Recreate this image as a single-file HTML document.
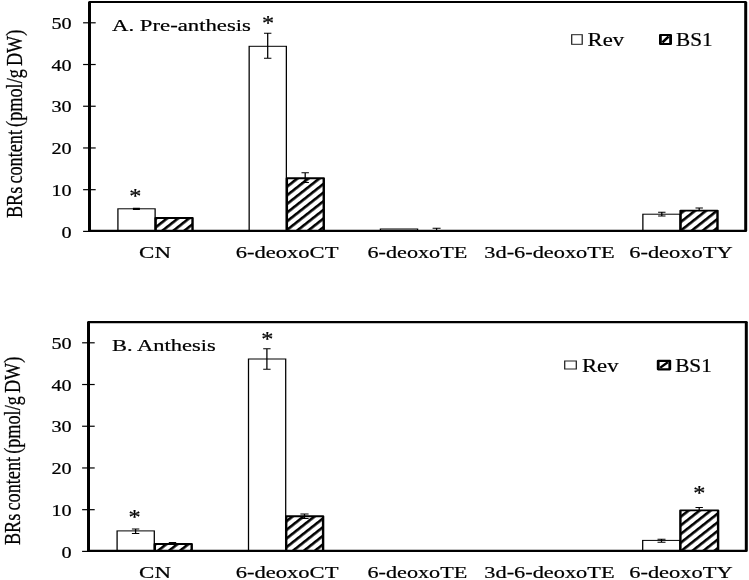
<!DOCTYPE html>
<html><head><meta charset="utf-8"><title>BRs content</title>
<style>html,body{margin:0;padding:0;background:#fff}svg{display:block;filter:blur(0.4px)}text{font-family:"Liberation Serif","Times New Roman",serif;fill:#000;stroke:#000;stroke-width:0.22px}</style>
</head><body>
<svg width="749" height="580" viewBox="0 0 749 580">
<defs>
<pattern id="h0" patternUnits="userSpaceOnUse" width="6.12" height="6.12" patternTransform="translate(123.578,224.669) rotate(-45)"><rect width="6.12" height="6.12" fill="#fff"/><rect width="6.12" height="2.35" fill="#000"/></pattern>
<pattern id="h1" patternUnits="userSpaceOnUse" width="6.12" height="6.12" patternTransform="translate(227.122,201.169) rotate(-45)"><rect width="6.12" height="6.12" fill="#fff"/><rect width="6.12" height="2.35" fill="#000"/></pattern>
<pattern id="h2" patternUnits="userSpaceOnUse" width="6.12" height="6.12" patternTransform="translate(536.964,219.369) rotate(-45)"><rect width="6.12" height="6.12" fill="#fff"/><rect width="6.12" height="2.35" fill="#000"/></pattern>
<pattern id="h3" patternUnits="userSpaceOnUse" width="6.12" height="6.12" patternTransform="translate(123.578,541.269) rotate(-45)"><rect width="6.12" height="6.12" fill="#fff"/><rect width="6.12" height="2.35" fill="#000"/></pattern>
<pattern id="h4" patternUnits="userSpaceOnUse" width="6.12" height="6.12" patternTransform="translate(226.728,527.069) rotate(-45)"><rect width="6.12" height="6.12" fill="#fff"/><rect width="6.12" height="2.35" fill="#000"/></pattern>
<pattern id="h5" patternUnits="userSpaceOnUse" width="6.12" height="6.12" patternTransform="translate(536.964,522.769) rotate(-45)"><rect width="6.12" height="6.12" fill="#fff"/><rect width="6.12" height="2.35" fill="#000"/></pattern>
</defs>
<rect width="749" height="580" fill="#fff"/>
<g transform="scale(1.27,1)">
<rect x="92.85" y="208.80" width="29.29" height="22.05" fill="#fff" stroke="#000" stroke-width="1"/>
<rect x="122.54" y="218.00" width="29.06" height="12.85" fill="url(#h0)" stroke="#000" stroke-width="1.9" stroke-linejoin="round"/>
<rect x="196.19" y="46.30" width="29.29" height="184.55" fill="#fff" stroke="#000" stroke-width="1"/>
<rect x="225.87" y="178.20" width="29.06" height="52.65" fill="url(#h1)" stroke="#000" stroke-width="1.9" stroke-linejoin="round"/>
<rect x="299.53" y="229.00" width="29.29" height="1.85" fill="#fff" stroke="#000" stroke-width="1"/>
<rect x="506.20" y="214.20" width="29.29" height="16.65" fill="#fff" stroke="#000" stroke-width="1"/>
<rect x="535.89" y="210.60" width="29.06" height="20.25" fill="url(#h2)" stroke="#000" stroke-width="1.9" stroke-linejoin="round"/>
<path d="M107.40 208.30V209.30M104.65 208.30H110.16M104.65 209.30H110.16" stroke="#000" stroke-width="1.2" fill="none"/>
<path d="M210.79 33.20V58.20M207.87 33.20H213.70M207.87 58.20H213.70" stroke="#000" stroke-width="1.0" fill="none"/>
<path d="M240.31 172.70V182.50M237.40 172.70H243.23M237.40 182.50H243.23" stroke="#000" stroke-width="1.0" fill="none"/>
<path d="M343.78 228.20V230.50M340.63 228.20H346.93M340.63 230.50H346.93" stroke="#000" stroke-width="1.0" fill="none"/>
<path d="M521.10 212.20V215.90M518.19 212.20H524.02M518.19 215.90H524.02" stroke="#000" stroke-width="1.0" fill="none"/>
<path d="M550.55 208.00V210.60M547.64 208.00H553.46M547.64 210.60H553.46" stroke="#000" stroke-width="1.0" fill="none"/>
<path d="M70.47 2.05V230.85H587.17V2.05" fill="none" stroke="#000" stroke-width="2.35" stroke-linejoin="round"/>
<path d="M70.47 2.05H587.17" fill="none" stroke="#000" stroke-width="1.9" stroke-linecap="round"/>
<path d="M65.43 231.40H75.35" stroke="#000" stroke-width="1.2"/>
<text transform="translate(56.38,237.50) scale(0.905,1)" font-size="17.6" text-anchor="end" >0</text>
<path d="M65.43 189.68H75.35" stroke="#000" stroke-width="1.2"/>
<text transform="translate(56.38,195.78) scale(0.905,1)" font-size="17.6" text-anchor="end" >10</text>
<path d="M65.43 147.96H75.35" stroke="#000" stroke-width="1.2"/>
<text transform="translate(56.38,154.06) scale(0.905,1)" font-size="17.6" text-anchor="end" >20</text>
<path d="M65.43 106.24H75.35" stroke="#000" stroke-width="1.2"/>
<text transform="translate(56.38,112.34) scale(0.905,1)" font-size="17.6" text-anchor="end" >30</text>
<path d="M65.43 64.52H75.35" stroke="#000" stroke-width="1.2"/>
<text transform="translate(56.38,70.62) scale(0.905,1)" font-size="17.6" text-anchor="end" >40</text>
<path d="M65.43 22.80H75.35" stroke="#000" stroke-width="1.2"/>
<text transform="translate(56.38,28.90) scale(0.905,1)" font-size="17.6" text-anchor="end" >50</text>
<text transform="translate(122.06,257.95) scale(1.04,1)" font-size="17.35" text-anchor="middle" >CN</text>
<text transform="translate(226.03,257.95) scale(1.024,1)" font-size="17.35" text-anchor="middle" >6-deoxoCT</text>
<text transform="translate(328.66,257.95) scale(1.007,1)" font-size="17.35" text-anchor="middle" >6-deoxoTE</text>
<text transform="translate(432.63,257.95) scale(1.014,1)" font-size="17.35" text-anchor="middle" >3d-6-deoxoTE</text>
<text transform="translate(536.13,257.95) scale(1.018,1)" font-size="17.35" text-anchor="middle" >6-deoxoTY</text>
<text transform="translate(88.27,30.60) scale(1.034,1)" font-size="17.3" text-anchor="start" >A. Pre-anthesis</text>
<text transform="translate(17.32,123.90) rotate(-90)" word-spacing="-1.5" font-size="18.6" text-anchor="middle" textLength="188.4" lengthAdjust="spacingAndGlyphs">BRs content (pmol/g DW)</text>
<text transform="translate(106.54,203.00) scale(0.93,1)" font-size="20.5" text-anchor="middle" >*</text>
<text transform="translate(211.02,30.10) scale(0.93,1)" font-size="20.5" text-anchor="middle" >*</text>
<rect x="450.16" y="34.70" width="8.27" height="9.60" fill="#fff" stroke="#222" stroke-width="1"/>
<text transform="translate(462.68,45.80) scale(0.96,1)" font-size="18.6" text-anchor="start" >Rev</text>
<rect x="520.00" y="35.00" width="8.03" height="9.00" fill="#fff" stroke="#000" stroke-width="2.2" stroke-linejoin="round"/>
<path d="M521.57 42.50L526.46 36.50" stroke="#000" stroke-width="2.2"/>
<text transform="translate(532.28,45.90) scale(0.9,1)" font-size="18.6" text-anchor="start" >BS1</text>
<rect x="92.20" y="530.90" width="29.29" height="19.95" fill="#fff" stroke="#000" stroke-width="1"/>
<rect x="121.89" y="544.00" width="29.06" height="6.85" fill="url(#h3)" stroke="#000" stroke-width="1.9" stroke-linejoin="round"/>
<rect x="195.67" y="359.00" width="29.29" height="191.85" fill="#fff" stroke="#000" stroke-width="1"/>
<rect x="225.35" y="516.20" width="29.06" height="34.65" fill="url(#h4)" stroke="#000" stroke-width="1.9" stroke-linejoin="round"/>
<rect x="506.06" y="540.40" width="29.29" height="10.45" fill="#fff" stroke="#000" stroke-width="1"/>
<rect x="535.75" y="510.40" width="29.69" height="40.45" fill="url(#h5)" stroke="#000" stroke-width="1.9" stroke-linejoin="round"/>
<path d="M106.77 529.00V533.40M103.86 529.00H109.69M103.86 533.40H109.69" stroke="#000" stroke-width="1.0" fill="none"/>
<path d="M135.83 542.40V544.50M132.91 542.40H138.74M132.91 544.50H138.74" stroke="#000" stroke-width="1.0" fill="none"/>
<path d="M210.16 348.80V369.20M207.24 348.80H213.07M207.24 369.20H213.07" stroke="#000" stroke-width="1.0" fill="none"/>
<path d="M239.76 514.10V518.50M236.54 514.10H242.99M236.54 518.50H242.99" stroke="#000" stroke-width="1.0" fill="none"/>
<path d="M520.87 539.20V542.20M517.72 539.20H524.02M517.72 542.20H524.02" stroke="#000" stroke-width="1.0" fill="none"/>
<path d="M550.55 507.60V510.40M547.64 507.60H553.46M547.64 510.40H553.46" stroke="#000" stroke-width="1.0" fill="none"/>
<path d="M69.69 322.05V550.85H587.64V322.05" fill="none" stroke="#000" stroke-width="2.35" stroke-linejoin="round"/>
<path d="M69.69 322.05H587.64" fill="none" stroke="#000" stroke-width="2.2" stroke-linecap="round"/>
<path d="M64.65 551.40H74.57" stroke="#000" stroke-width="1.2"/>
<text transform="translate(56.38,557.50) scale(0.905,1)" font-size="17.6" text-anchor="end" >0</text>
<path d="M64.65 509.68H74.57" stroke="#000" stroke-width="1.2"/>
<text transform="translate(56.38,515.78) scale(0.905,1)" font-size="17.6" text-anchor="end" >10</text>
<path d="M64.65 467.96H74.57" stroke="#000" stroke-width="1.2"/>
<text transform="translate(56.38,474.06) scale(0.905,1)" font-size="17.6" text-anchor="end" >20</text>
<path d="M64.65 426.24H74.57" stroke="#000" stroke-width="1.2"/>
<text transform="translate(56.38,432.34) scale(0.905,1)" font-size="17.6" text-anchor="end" >30</text>
<path d="M64.65 384.52H74.57" stroke="#000" stroke-width="1.2"/>
<text transform="translate(56.38,390.62) scale(0.905,1)" font-size="17.6" text-anchor="end" >40</text>
<path d="M64.65 342.80H74.57" stroke="#000" stroke-width="1.2"/>
<text transform="translate(56.38,348.90) scale(0.905,1)" font-size="17.6" text-anchor="end" >50</text>
<text transform="translate(122.06,577.65) scale(1.04,1)" font-size="17.35" text-anchor="middle" >CN</text>
<text transform="translate(226.03,577.65) scale(1.024,1)" font-size="17.35" text-anchor="middle" >6-deoxoCT</text>
<text transform="translate(328.66,577.65) scale(1.007,1)" font-size="17.35" text-anchor="middle" >6-deoxoTE</text>
<text transform="translate(432.63,577.65) scale(1.014,1)" font-size="17.35" text-anchor="middle" >3d-6-deoxoTE</text>
<text transform="translate(536.13,577.65) scale(1.018,1)" font-size="17.35" text-anchor="middle" >6-deoxoTY</text>
<text transform="translate(88.27,351.10) scale(1.022,1)" font-size="17.3" text-anchor="start" >B. Anthesis</text>
<text transform="translate(15.75,450.85) rotate(-90)" word-spacing="-1.5" font-size="18.6" text-anchor="middle" textLength="188.4" lengthAdjust="spacingAndGlyphs">BRs content (pmol/g DW)</text>
<text transform="translate(105.98,524.10) scale(0.93,1)" font-size="20.5" text-anchor="middle" >*</text>
<text transform="translate(210.39,345.80) scale(0.93,1)" font-size="20.5" text-anchor="middle" >*</text>
<text transform="translate(550.71,499.70) scale(0.93,1)" font-size="20.5" text-anchor="middle" >*</text>
<rect x="444.65" y="361.00" width="9.13" height="8.00" fill="#fff" stroke="#222" stroke-width="1"/>
<text transform="translate(458.27,371.80) scale(0.96,1)" font-size="18.6" text-anchor="start" >Rev</text>
<rect x="518.27" y="360.80" width="9.13" height="8.50" fill="#fff" stroke="#000" stroke-width="2.2" stroke-linejoin="round"/>
<path d="M519.84 367.80L525.83 362.30" stroke="#000" stroke-width="2.2"/>
<text transform="translate(531.65,371.80) scale(0.9,1)" font-size="18.6" text-anchor="start" >BS1</text>
</g>
</svg>
</body></html>
